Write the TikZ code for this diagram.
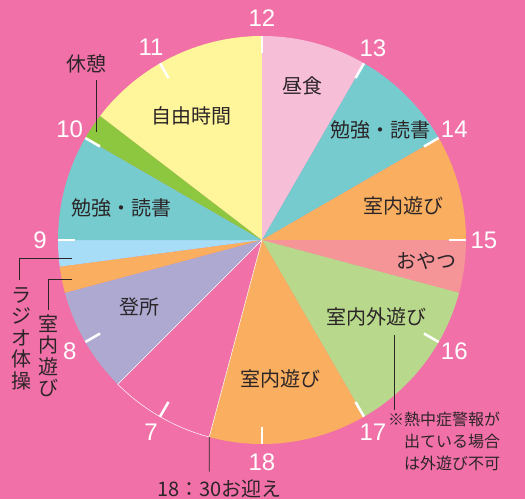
\documentclass[tikz,border=0pt]{standalone}
\usepackage{fontspec}
\setmainfont{Noto Sans CJK JP}
\newfontfamily\numfont{Liberation Sans}
\definecolor{bgpink}{HTML}{F170A8}
\definecolor{lunch}{HTML}{F7BED8}
\definecolor{study}{HTML}{76CBCE}
\definecolor{play}{HTML}{F9AF5F}
\definecolor{snack}{HTML}{F59598}
\definecolor{outplay}{HTML}{B8D98B}
\definecolor{arrive}{HTML}{ADA9D1}
\definecolor{radio}{HTML}{A7DDF6}
\definecolor{rest}{HTML}{8DC63F}
\definecolor{free}{HTML}{FFF59A}
\definecolor{ink}{HTML}{2B2527}
\begin{document}
\begin{tikzpicture}[x=1pt,y=1pt,
        tag/.style={text=ink, font=\fontsize{20}{22}\selectfont, inner sep=0pt},
        vtag/.style={tag, align=center, font=\fontsize{20}{21.5}\selectfont},
        note/.style={text=ink, font=\fontsize{16}{22}\selectfont, align=left, inner sep=0pt},
        hour/.style={text=white, font=\numfont\fontsize{24}{24}\selectfont, inner sep=0pt},
        hourtick/.style={white, line width=2.5pt},
        leader/.style={ink, line width=0.7pt}]
            \fill[bgpink] (-262,-259) rectangle (263,240);
            \useasboundingbox (-262,-259) rectangle (263,240);
            \foreach \a/\b/\c in {90/60/lunch, 60/30/study, 30/0/play, 0/-15/snack, -15/-60/outplay, -60/-105/play, -135/-165/arrive, -165/-172.5/play, -172.5/-180/radio, 180/150/study, 150/142.5/rest, 142.5/90/free} {
                \fill[\c] (0,0) -- (\a:204) arc (\a:\b:204) -- cycle;
            }
            \draw[white, line width=0.5pt] (0,0) -- (-105:204) arc (-105:-135:204) -- cycle;
            \foreach \h in {7,...,18} {
                \draw[hourtick] ({90-30*(\h-12)}:187) -- ({90-30*(\h-12)}:204);
                \node[hour] (h\h) at ({90-30*(\h-12)}:222) {\h};
            }
            \node[tag] (freetime) at (-70,124) {自由時間};
            \node[tag] (studyam) at (-140,32) {勉強・読書};
            \node[tag] (lunchtime) at (41,154) {昼食};
            \node[tag] (studypm) at (119,110) {勉強・読書};
            \node[tag] (playpm) at (142,34) {室内遊び};
            \node[tag] (snacktime) at (164,-21) {おやつ};
            \node[tag] (outside) at (115,-77) {室内外遊び};
            \node[tag] (playlate) at (19,-139) {室内遊び};
            \node[tag] (arrival) at (-122,-67) {登所};
            \node[tag] (break) at (-175,176) {休憩};
            \node[vtag] (exercise) at (-240,-98.5) {ラ\\ジ\\オ\\体\\操};
            \node[vtag] (playam) at (-213,-116) {室\\内\\遊\\び};
            \node[tag, anchor=base] (pickup) at (-42.5,-256.6) {18：30お迎え};
            \node[note, anchor=north west] (heat) at (126,-172) {※熱中症警報が\\\hspace*{1em}出ている場合\\\hspace*{1em}は外遊び不可};
            \coordinate (breakpin) at (-165.3,108);
            \coordinate (breakfoot) at (-165.3,160);
            \coordinate (exercisepin) at (-190,-18);
            \coordinate (exercisefoot) at (-243,-40);
            \coordinate (playampin) at (-190.3,-39.3);
            \coordinate (playamfoot) at (-213.7,-70);
            \coordinate (pickuppin) at (-105:204);
            \coordinate (pickupfoot) at (-52.7,-231.7);
            \coordinate (heatpin) at (132.7,-95);
            \coordinate (heatfoot) at (132.7,-170);
            \draw[leader] (breakfoot) -- (breakpin);
            \draw[leader] (exercisepin) -| (exercisefoot);
            \draw[leader] (playampin) -| (playamfoot);
            \draw[leader] (pickuppin) -- (pickupfoot);
            \draw[leader] (heatpin) -- (heatfoot);
        \end{tikzpicture}
\end{document}
